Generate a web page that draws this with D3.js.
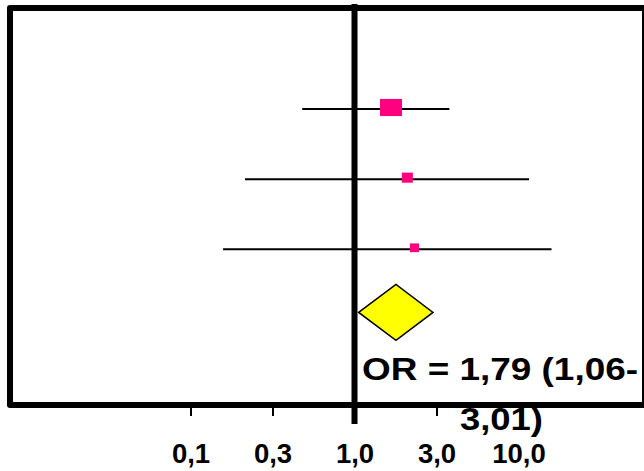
<!DOCTYPE html>
<html>
<head>
<meta charset="utf-8">
<script src="https://cdn.jsdelivr.net/npm/d3@7/dist/d3.min.js"></script>
<style>
  html, body { margin: 0; padding: 0; background: #fff; }
  svg { display: block; }
  text { font-family: "Liberation Sans", Arial, sans-serif; font-weight: bold; }
</style>
</head>
<body>
<svg id="chart" width="644" height="471"></svg>
<script>
// Study odds ratios with 95% confidence limits
const studyOR    = [1.67, 2.10, 2.32];
const studyLower = [0.48, 0.215, 0.158];
const studyUpper = [3.79, 11.6, 15.9];
const studyWeight = [100, 25, 17];

// Pooled estimate
const pooledOR = [1.79];
const pooledLower = [1.06];
const pooledUpper = [3.01];

// Axis ticks (half-decade steps) and their labels
const tickValues = [0.1, Math.sqrt(0.1), 1, Math.sqrt(10), 10];
const tickLabels = ["0,1", "0,3", "1,0", "3,0", "10,0"];

const W = 644, H = 471;
const svg = d3.select("#chart");
svg.append("rect").attr("width", W).attr("height", H).attr("fill", "#fff");

const x = d3.scaleLog().domain([0.1, 10]).range([190.5, 518.5]);
const y = d3.scaleLinear().domain([0, 2]).range([109, 249.3]);
const pooledRow = 2.9;

const side = d3.scaleSqrt().domain([0, 100]).range([0, 22]);
const fmt = v => d3.format(".2f")(v).replace(".", ",");

// Frame
svg.append("rect")
  .attr("x", 10).attr("y", 8)
  .attr("width", 635).attr("height", 397)
  .attr("fill", "none").attr("stroke", "#000")
  .attr("stroke-width", 6).attr("stroke-linejoin", "round");

// Axis below the frame
const axis = d3.axisBottom(x)
  .tickValues(tickValues)
  .tickFormat((d, i) => tickLabels[i])
  .tickSize(8);

const gAxis = svg.append("g").attr("transform", "translate(0,408)").call(axis);
gAxis.select(".domain").remove();
gAxis.selectAll(".tick line")
  .attr("stroke", "#000").attr("stroke-width", 2)
  .attr("display", (d, i) => (i === 2 || i === 4) ? "none" : null);
gAxis.selectAll(".tick text")
  .attr("y", 55).attr("dy", null)
  .attr("fill", "#000")
  .style("font-size", "27.5px")
  .style("font-family", "'Liberation Sans', Arial, sans-serif")
  .style("font-weight", "bold");

// Line of no effect
svg.append("line")
  .attr("x1", x(1)).attr("x2", x(1))
  .attr("y1", 4).attr("y2", 424)
  .attr("stroke", "#000").attr("stroke-width", 6);

// Confidence intervals
svg.append("g").selectAll("line")
  .data(studyOR)
  .join("line")
  .attr("x1", (d, i) => x(studyLower[i]))
  .attr("x2", (d, i) => x(studyUpper[i]))
  .attr("y1", (d, i) => y(i))
  .attr("y2", (d, i) => y(i))
  .attr("stroke", "#000").attr("stroke-width", 2);

// Point estimates, sized by weight
svg.append("g").selectAll("rect")
  .data(studyOR)
  .join("rect")
  .each(function (d, i) {
    const w = side(studyWeight[i]);
    const h = 0.64 * w + 3;
    d3.select(this)
      .attr("x", x(d) - w / 2)
      .attr("y", y(i) - 1.5 - h / 2)
      .attr("width", w)
      .attr("height", h);
  })
  .attr("fill", "#ff007f");

// Pooled diamond
const yc = y(pooledRow), dh = 28;
svg.append("path")
  .attr("d", d3.line()([
    [x(pooledLower[0]), yc],
    [x(pooledOR[0]), yc - dh],
    [x(pooledUpper[0]), yc],
    [x(pooledOR[0]), yc + dh]
  ]) + "Z")
  .attr("fill", "#ffff00")
  .attr("stroke", "#000")
  .attr("stroke-width", 1.5)
  .attr("stroke-linejoin", "miter");

// Pooled result label
const label = svg.append("g").style("font-size", "31.5px");
label.append("text")
  .attr("x", 362).attr("y", 380)
  .attr("textLength", 276).attr("lengthAdjust", "spacingAndGlyphs")
  .text(`OR = ${fmt(pooledOR[0])} (${fmt(pooledLower[0])}-`);
label.append("text")
  .attr("x", 460).attr("y", 430)
  .attr("textLength", 83).attr("lengthAdjust", "spacingAndGlyphs")
  .text(`${fmt(pooledUpper[0])})`);
</script>
</body>
</html>
